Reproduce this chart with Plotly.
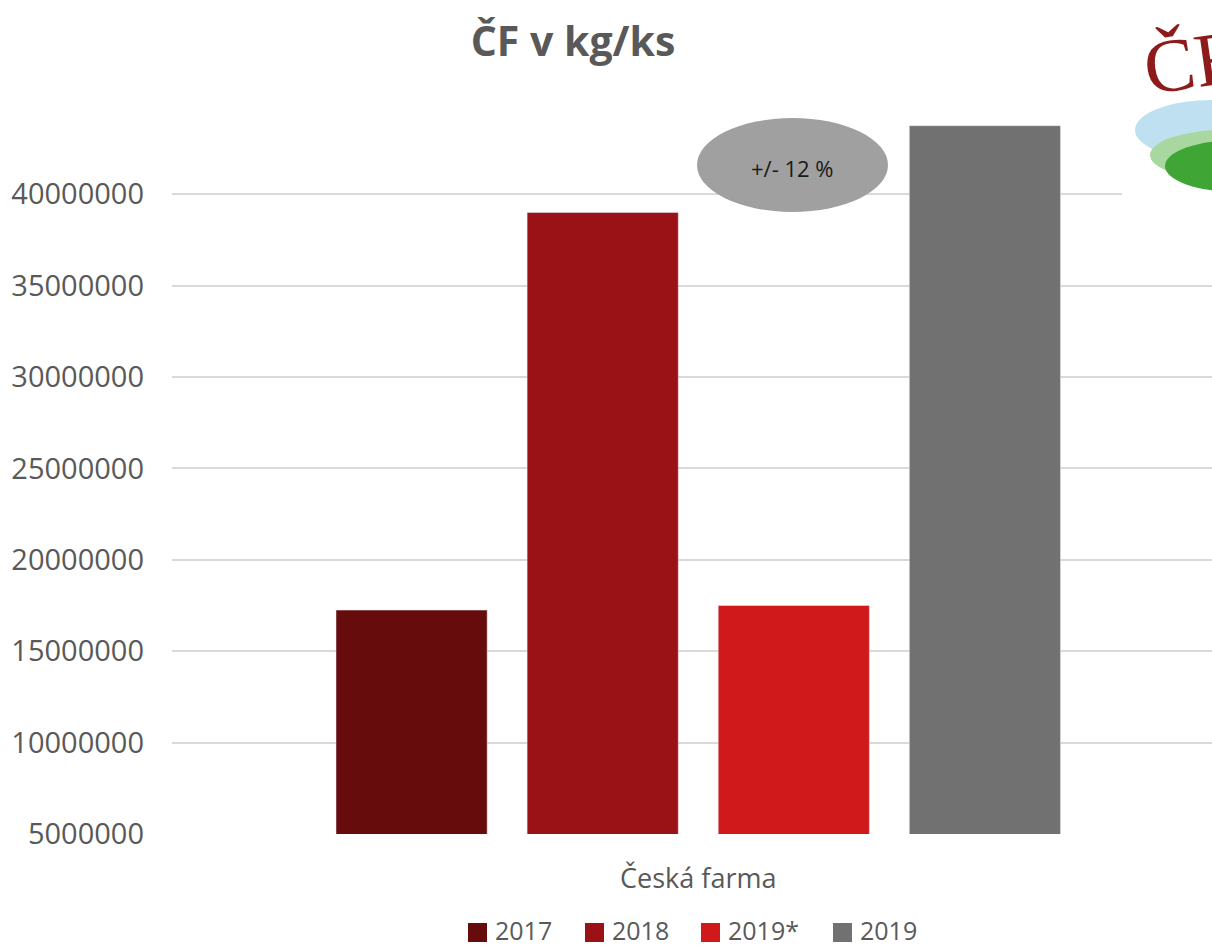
import plotly.graph_objects as go

# data
kategorie = ["Česká farma"]
roky = ["2017", "2018", "2019*", "2019"]
hodnoty = [17250000, 39000000, 17500000, 43750000]
barvy = ["#670C0C", "#9A1215", "#D0191B", "#717171"]
osa_y = [5000000, 10000000, 15000000, 20000000, 25000000, 30000000, 35000000, 40000000]

FONT = "Open Sans"
SEDA = "#595959"

# plot area in pixels (used for placing decorations)
L, R, T, B = 172, 1212, 112, 834


def px_x(p):
    return (p - L) / (R - L)


def px_y(p):
    return (B - p) / (B - T)


fig = go.Figure()
for rok, h, c in zip(roky, hodnoty, barvy):
    fig.add_trace(go.Bar(x=kategorie, y=[h], name=rok, marker_color=c))

fig.update_layout(
    width=1212, height=949,
    margin=dict(l=L, r=1212 - R, t=T, b=949 - B, autoexpand=False),
    paper_bgcolor="white", plot_bgcolor="white",
    font=dict(family=FONT, color=SEDA),
    barmode="group", bargap=0.265, bargroupgap=0.209,
    title=dict(text="<b>ČF v kg/ks</b>", x=573 / 1212, xref="container", xanchor="center",
               y=1 - 42 / 949, yanchor="middle", font=dict(size=41, color=SEDA, family=FONT)),
    showlegend=False,
)
# the original plot area runs a bit past the right edge, so the category sits right of centre
fig.update_xaxes(range=[-0.506, 0.494], showline=False, showgrid=False, ticks="",
                 tickfont=dict(size=27, color=SEDA), ticklabelstandoff=26)
fig.update_yaxes(range=[5000000, 44500000], tickvals=osa_y, tickformat="d",
                 showgrid=True, gridcolor="#D9D9D9", gridwidth=1.5, zeroline=False,
                 showline=False, ticks="", tickfont=dict(size=29, color=SEDA),
                 ticklabelstandoff=27)

# legend drawn by hand so the colour squares match the original size
leg_x = [468, 585, 701, 833]
for rok, c, lx in zip(roky, barvy, leg_x):
    fig.add_shape(type="rect", xref="paper", yref="paper",
                  x0=px_x(lx), x1=px_x(lx + 19), y0=px_y(942), y1=px_y(923),
                  fillcolor=c, line=dict(width=0))
    fig.add_annotation(text=rok, xref="paper", yref="paper", x=px_x(lx + 26), y=px_y(930),
                       xanchor="left", yanchor="middle", showarrow=False, borderpad=0,
                       font=dict(size=25, color=SEDA, family=FONT))

# ellipse with note
fig.add_shape(type="circle", xref="paper", yref="paper",
              x0=px_x(697), x1=px_x(888), y0=px_y(212), y1=px_y(118),
              fillcolor="#A0A0A0", line=dict(width=0), layer="above")
fig.add_annotation(text="+/- 12 %", xref="paper", yref="paper", x=px_x(792), y=px_y(168),
                   yanchor="middle", showarrow=False,
                   font=dict(size=22, color="#1a1a1a", family=FONT))

# logo approximation in the corner
fig.add_shape(type="rect", xref="paper", yref="paper", x0=px_x(1122), x1=px_x(1215),
              y0=px_y(200), y1=px_y(0), fillcolor="white", line=dict(width=0), layer="above")
fig.add_shape(type="circle", xref="paper", yref="paper", x0=px_x(1135), x1=px_x(1290),
              y0=px_y(160), y1=px_y(100), fillcolor="#BFE0F0", line=dict(width=0), layer="above")
fig.add_shape(type="circle", xref="paper", yref="paper", x0=px_x(1150), x1=px_x(1300),
              y0=px_y(180), y1=px_y(130), fillcolor="#A8D8A0", line=dict(width=0), layer="above")
fig.add_shape(type="circle", xref="paper", yref="paper", x0=px_x(1165), x1=px_x(1310),
              y0=px_y(192), y1=px_y(140), fillcolor="#3FA535", line=dict(width=0), layer="above")
fig.add_annotation(text="ČF", xref="paper", yref="paper", x=px_x(1136), y=px_y(62),
                   xanchor="left", yanchor="middle", showarrow=False, textangle=-8,
                   font=dict(size=76, color="#8E1B1B", family="Liberation Serif"))

# the page's default body margin would shift the figure by 8px
fig.write_html("out.html", config={"displayModeBar": False},
               post_script="document.body.style.margin='0';")
